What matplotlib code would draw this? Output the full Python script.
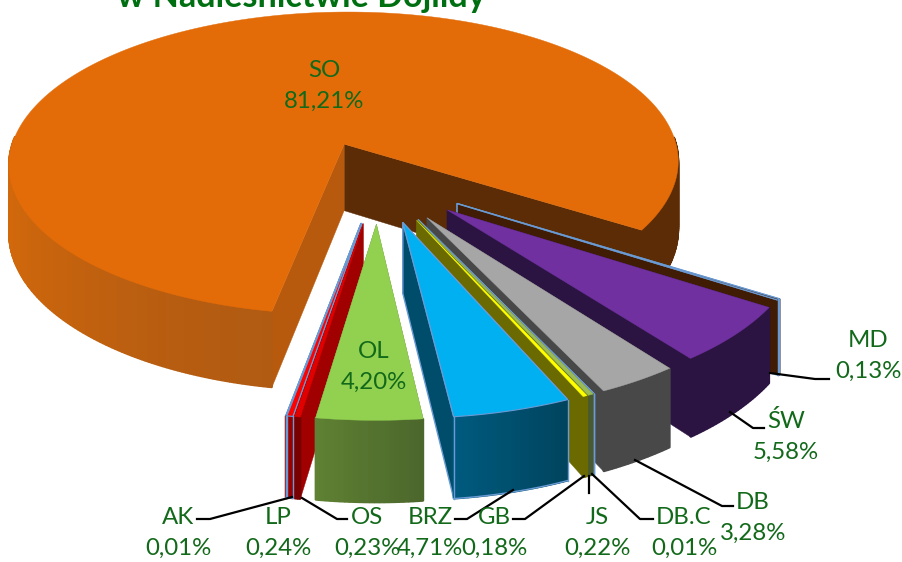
import numpy as np
import matplotlib
matplotlib.use("Agg")
import matplotlib.pyplot as plt

plt.rcParams['font.family'] = ['Lato', 'DejaVu Sans']

# ---- data ----
labels = ["MD", "ŚW", "DB", "DB.C", "JS", "GB", "BRZ", "OL", "OS", "LP", "AK", "SO"]
values = [0.13, 5.58, 3.28, 0.01, 0.22, 0.18, 4.71, 4.20, 0.23, 0.24, 0.01, 81.21]
value_text = ["0,13%", "5,58%", "3,28%", "0,01%", "0,22%", "0,18%", "4,71%", "4,20%", "0,23%", "0,24%", "0,01%", "81,21%"]
title = "w Nadleśnictwie Dojlidy"

# ---- style ----
top_col = ["#3D1B02", "#7030A0", "#A6A6A6", "#4F81BD", "#9BBB59", "#FFFF00", "#00B0F0", "#92D050", "#E00000", "#FF0000", "#C00000", "#E36C09"]
wall_a = ["#401C04", "#2C1442", "#484848", "#4F81BD", "#4A5A30", "#6B6A00", "#005B7F", "#5F8233", "#780000", "#9A0000", "#9A0000", "#D4690B"]
wall_b = ["#401C04", "#2C1442", "#484848", "#4F81BD", "#4A5A30", "#6B6A00", "#00445E", "#4C672C", "#780000", "#9A0000", "#9A0000", "#B05A12"]
face_col = ["#401C04", "#2C1442", "#484848", "#4F81BD", "#4A5A30", "#6B6A00", "#004D6B", "#5F8233", "#A00000", "#A00000", "#A00000", "#B85A0D"]
outlined = {"MD", "DB.C", "BRZ", "LP", "AK"}
outline = "#6A9BD5"
so_right_wall = "#5B2C05"
text_col = "#12691A"

START = 57.4   # angle of first slice edge from the viewer direction, clockwise seen from above
EXPL = 0.27
EXPL_SO = 0.255
CX, CY, RX, RY, K, DEPTH = 378.0, 180.0, 342.0, 158.0, 0.13, 68.5

label_pos = {"SO": (324, 86), "MD": (868, 356), "ŚW": (786, 436), "DB": (753, 518), "DB.C": (684, 533),
             "JS": (597, 533), "GB": (494, 533), "BRZ": (430, 533), "OL": (374, 367), "OS": (367, 533),
             "LP": (278, 533), "AK": (178, 533)}
leaders = [[(197, 519), (210, 519), (292, 497)],
           [(347, 519), (337, 519), (302, 498)],
           [(455, 519), (467, 519), (513, 490)],
           [(513, 519), (525, 519), (584, 476)],
           [(589, 493), (589, 476)],
           [(653, 519), (640, 519), (592, 474)],
           [(733, 506), (722, 506), (635, 460)],
           [(764, 428), (753, 428), (730, 412)],
           [(829, 379), (815, 379), (770, 373)]]


def proj(u, v, h=0.0):
    s = 1.0 / (1.0 - K * v)
    return CX + RX * u * s, CY + RY * v * s + h * DEPTH * s


def mix(a, b, f):
    ca, cb = np.array(matplotlib.colors.to_rgb(a)), np.array(matplotlib.colors.to_rgb(b))
    return tuple(ca + (cb - ca) * f)


fig = plt.figure(figsize=(9.02, 5.62), dpi=100)
ax = fig.add_axes([0, 0, 1, 1])
ax.set_xlim(0, 902)
ax.set_ylim(562, 0)
ax.axis("off")

fracs = np.array(values) / sum(values) * 360.0
edges = START - np.concatenate([[0], np.cumsum(fracs)])
slices = []
for i, name in enumerate(labels):
    t1, t2 = edges[i], edges[i + 1]
    mid = np.radians((t1 + t2) / 2)
    e = EXPL_SO if name == "SO" else EXPL
    slices.append(dict(i=i, name=name, t1=t1, t2=t2, mid=np.degrees(mid),
                       ou=e * np.sin(mid), ov=e * np.cos(mid)))


def norm_mid(m):
    return (m + 180) % 360 - 180


def draw_face(s, t, col, ol):
    a = np.radians(t)
    u, v = s["ou"] + np.sin(a), s["ov"] + np.cos(a)
    pts = [proj(s["ou"], s["ov"]), proj(u, v), proj(u, v, 1), proj(s["ou"], s["ov"], 1)]
    ax.fill(*zip(*pts), facecolor=col, edgecolor=outline if ol else col, lw=1.0 if ol else 0.3, joinstyle="round")


def draw_slice(s):
    i = s["i"]
    ol = s["name"] in outlined
    n = max(2, int(abs(s["t1"] - s["t2"]) * 1.5))
    ts = np.radians(np.linspace(s["t1"], s["t2"], n + 1))
    us, vs = s["ou"] + np.sin(ts), s["ov"] + np.cos(ts)
    m = norm_mid(s["mid"])
    if s["name"] == "SO":
        draw_face(s, s["t2"], so_right_wall, False)
        draw_face(s, s["t1"], face_col[i], False)
    elif m > 0:
        draw_face(s, s["t1"], face_col[i], ol)
        draw_face(s, s["t2"], face_col[i], ol)
    else:
        draw_face(s, s["t2"], face_col[i], ol)
        draw_face(s, s["t1"], face_col[i], ol)
    order = np.argsort((vs[:-1] + vs[1:]) / 2)
    umin, umax = us.min(), us.max()
    for j in order:
        if np.cos((ts[j] + ts[j + 1]) / 2) < -0.05:
            continue
        f = (us[j] - umin) / max(umax - umin, 1e-6)
        if s["name"] == "SO":
            uc = np.sin((ts[j] + ts[j + 1]) / 2)
            col = so_right_wall if uc > 0 else mix(wall_a[i], wall_b[i], 1 - min(1, -uc) ** 2)
        else:
            col = mix(wall_a[i], wall_b[i], f)
        pts = [proj(us[j], vs[j]), proj(us[j + 1], vs[j + 1]), proj(us[j + 1], vs[j + 1], 1), proj(us[j], vs[j], 1)]
        ax.fill(*zip(*pts), facecolor=col, edgecolor=col, lw=1.4, joinstyle="bevel")
    if ol:
        xb, yb = proj(us, vs, 1)
        ax.plot(xb, yb, color=outline, lw=1.0)
        for uu, vv in ((us[0], vs[0]), (us[-1], vs[-1])):
            p, q = proj(uu, vv), proj(uu, vv, 1)
            ax.plot([p[0], q[0]], [p[1], q[1]], color=outline, lw=1.0)
    xt, yt = proj(np.r_[s["ou"], us], np.r_[s["ov"], vs])
    ax.fill(xt, yt, facecolor=top_col[i], edgecolor=outline if ol else top_col[i], lw=0.8 if ol else 0.3)


so = [s for s in slices if s["name"] == "SO"]
rest = sorted([s for s in slices if s["name"] != "SO"], key=lambda s: -abs(norm_mid(s["mid"])))
for s in so + rest:
    draw_slice(s)

for pts in leaders:
    ax.plot(*zip(*pts), color="black", lw=1.6, solid_joinstyle="round")

for name, txt in zip(labels, value_text):
    x, y = label_pos[name]
    ax.text(x, y, name + "\n" + txt, ha="center", va="center", fontsize=17.3, color=text_col, linespacing=1.58)

ax.text(301, 7, title, ha="center", va="baseline", fontsize=24.6, fontweight="bold", color="#006F12")

fig.savefig("out.png", dpi=100)
